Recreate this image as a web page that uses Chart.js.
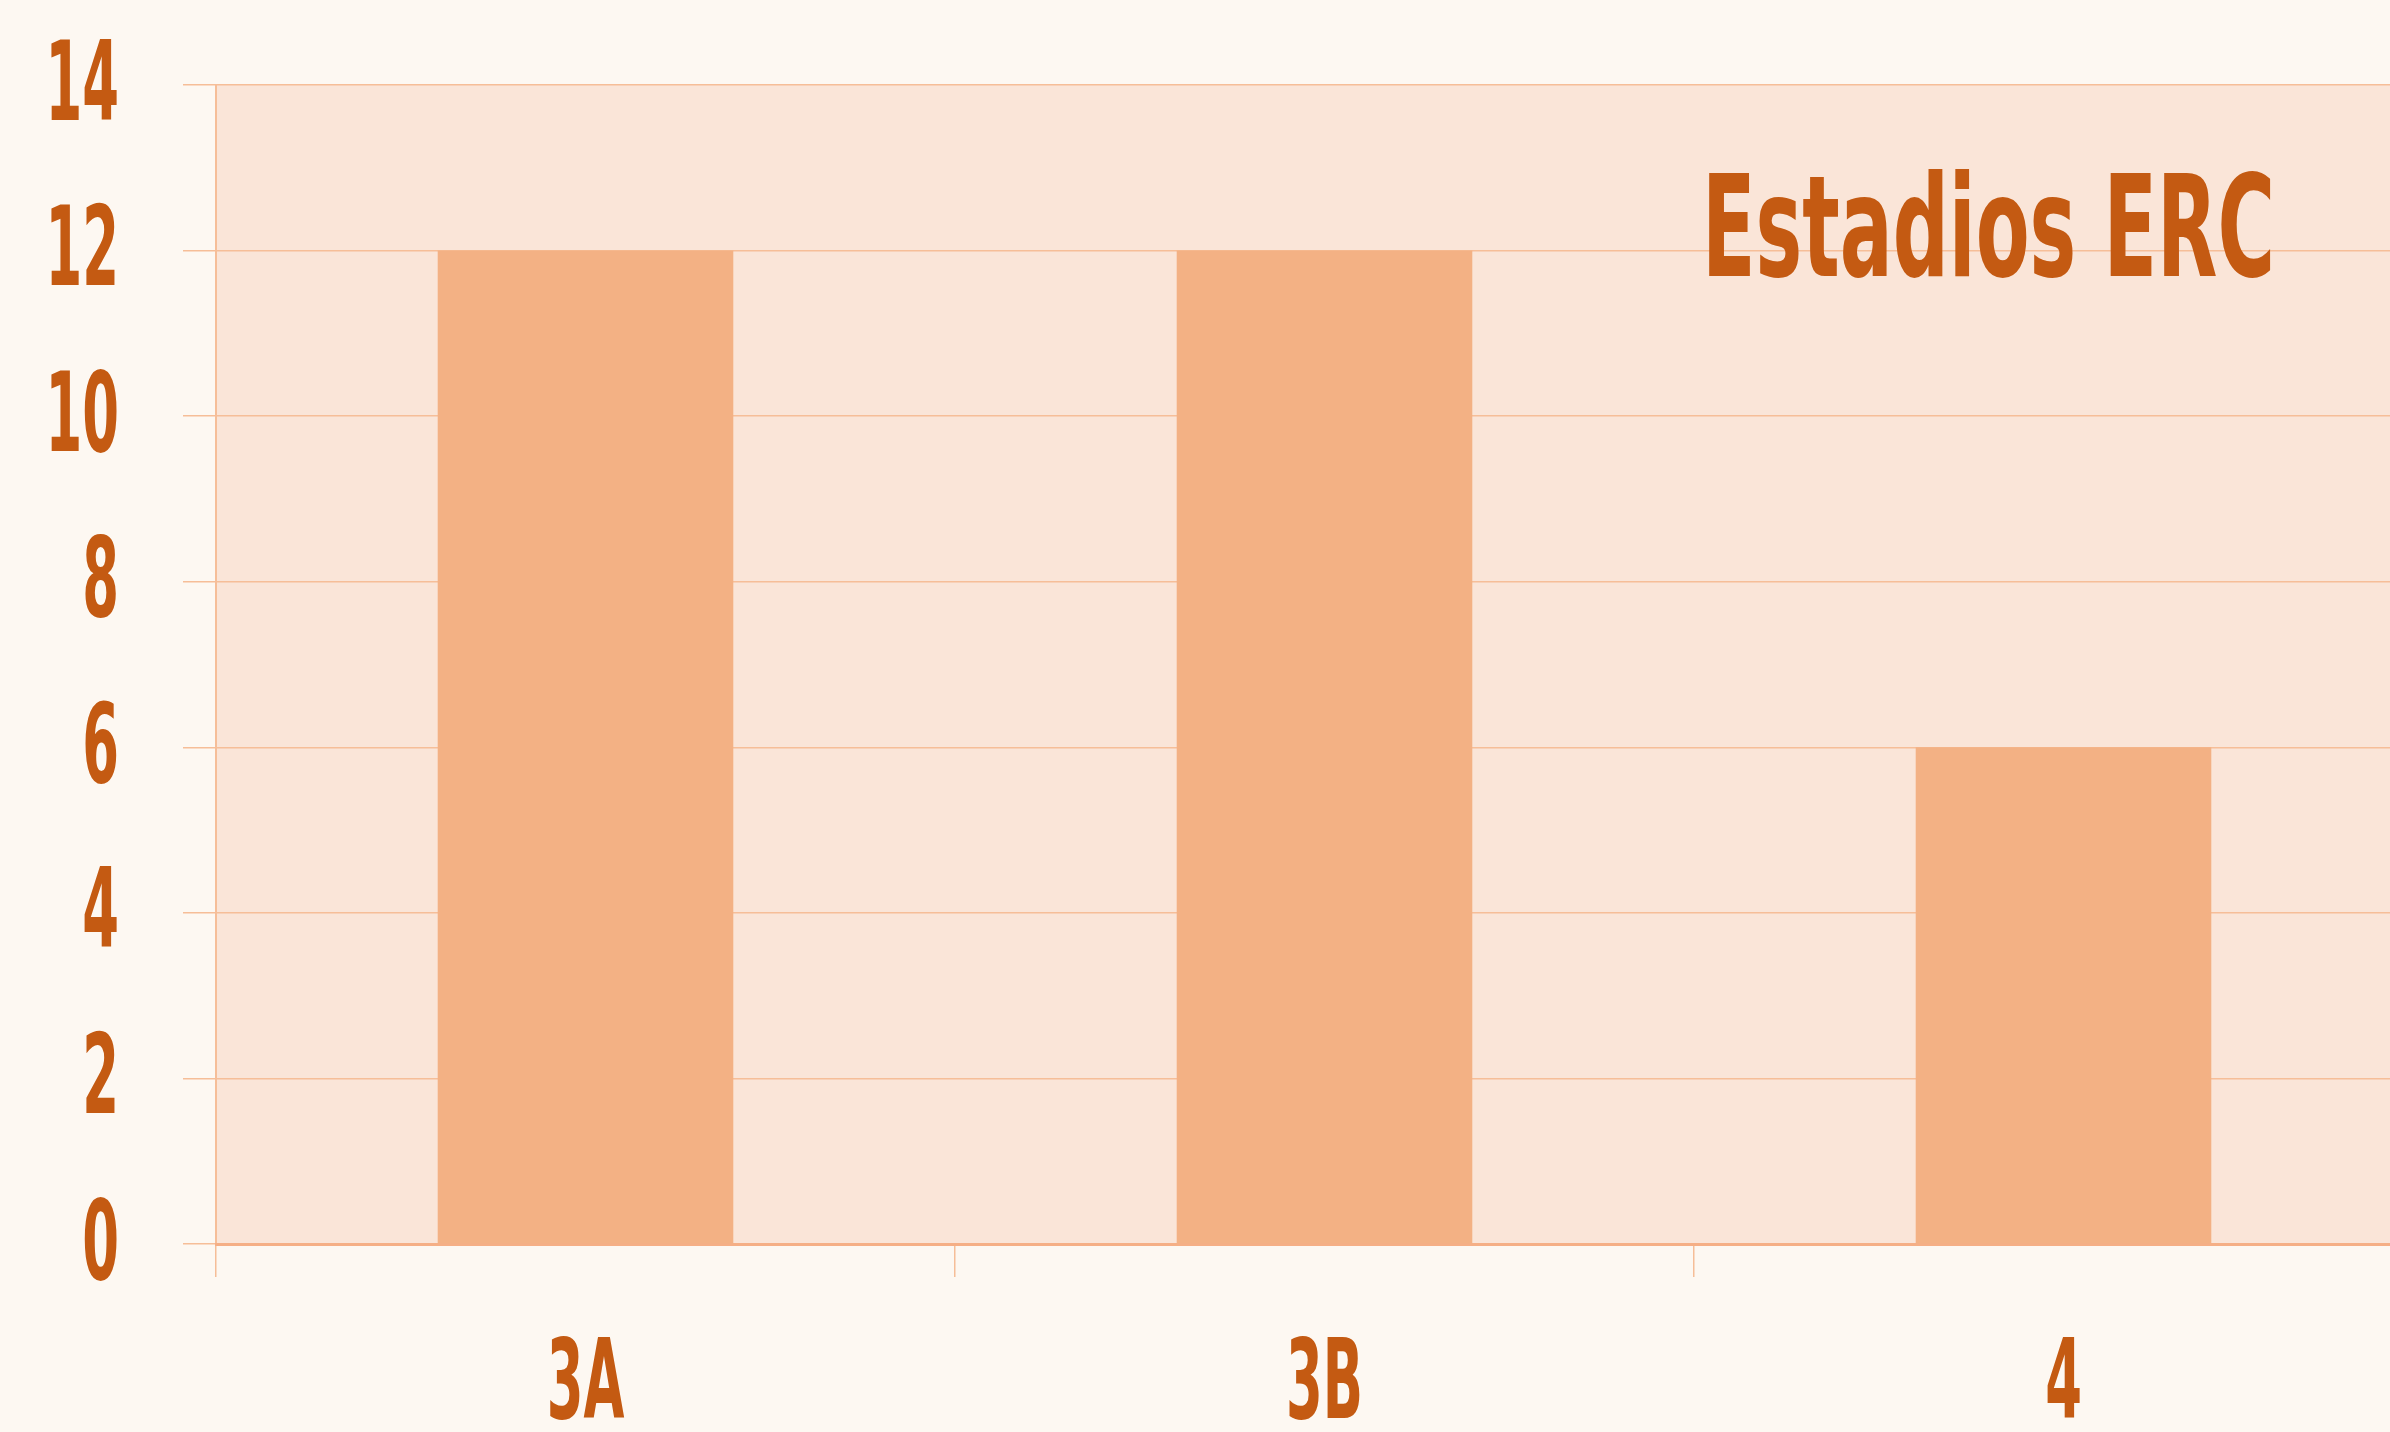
<!DOCTYPE html>
<html>
<head>
<meta charset="utf-8">
<script src="https://cdn.jsdelivr.net/npm/chart.js@4.4.1/dist/chart.umd.min.js"></script>
<style>
  html, body { margin: 0; padding: 0; overflow: hidden; background: #FDF8F2; }
  #wrap { width: 2433px; height: 1432px; position: relative; }
</style>
</head>
<body>
<div id="wrap"><canvas id="grafico-estadios"></canvas></div>
<script>
const categorias = ["3A", "3B", "4"];
const pacientes = [12, 12, 6];
const yTicks = [0, 2, 4, 6, 8, 10, 12, 14];
const titulo = "Estadios ERC";

const fuente = "'DejaVu Sans', 'Liberation Sans', sans-serif";
const textoColor = "#C45A12";
const lineaColor = "#F6BE98";

const ctx = document.getElementById("grafico-estadios").getContext("2d");

// la fuente original es muy condensada: se comprime el texto horizontalmente
const fillOriginal = ctx.fillText.bind(ctx);
ctx.fillText = function (t, x, y, mw) {
  const w = this.measureText(t).width * 0.48;
  return fillOriginal(t, x, y, mw === undefined ? w : Math.min(mw, w));
};

// fondo del area del grafico
const fondoArea = {
  id: "fondoArea",
  beforeDraw(chart) {
    const { ctx, chartArea } = chart;
    ctx.save();
    ctx.fillStyle = "#FAE5D8";
    ctx.fillRect(chartArea.left, chartArea.top, chartArea.right - chartArea.left, chartArea.bottom - chartArea.top);
    ctx.restore();
  },
};

// titulo dentro del area
const tituloArea = {
  id: "tituloArea",
  afterDraw(chart) {
    const { ctx } = chart;
    ctx.save();
    ctx.font = "bold 140px " + fuente;
    ctx.fillStyle = textoColor;
    ctx.textAlign = "right";
    ctx.textBaseline = "alphabetic";
    fillOriginal(titulo, 2275, 276, 573);
    ctx.restore();
  },
};

const myChart = new Chart(ctx, {
  type: "bar",
  data: {
    labels: categorias,
    datasets: [
      {
        label: titulo,
        data: pacientes,
        backgroundColor: "#F3B184",
        borderWidth: 0,
        barPercentage: 0.5,
        categoryPercentage: 0.8,
      },
    ],
  },
  options: {
    responsive: true,
    maintainAspectRatio: false,
    animation: false,
    layout: { padding: { top: 85, left: 0, right: 0, bottom: 0 } },
    scales: {
      y: {
        min: 0,
        max: 14,
        afterFit: (s) => {
          s.width = 216;
          s.paddingTop = 0;
          s.paddingBottom = 0;
        },
        afterBuildTicks: (s) => { s.ticks = yTicks.map((v) => ({ value: v })); },
        ticks: {
          stepSize: 2,
          padding: 64,
          labelOffset: 6,
          color: textoColor,
          font: { family: fuente, size: 110, weight: "bold" },
        },
        grid: { color: lineaColor, lineWidth: 1.5, tickLength: 33 },
        border: { display: true, color: lineaColor, width: 2 },
      },
      x: {
        afterFit: (s) => {
          s.height = 188;
          s.paddingLeft = 0;
          s.paddingRight = 0;
        },
        ticks: {
          padding: 46,
          color: textoColor,
          font: { family: fuente, size: 110, weight: "bold" },
        },
        grid: { drawOnChartArea: false, color: lineaColor, lineWidth: 1.5, tickLength: 33 },
        border: { display: true, color: "#F5AF86", width: 3 },
      },
    },
    plugins: {
      legend: { display: false },
      tooltip: { enabled: false },
    },
  },
  plugins: [fondoArea, tituloArea],
});
</script>
</body>
</html>
